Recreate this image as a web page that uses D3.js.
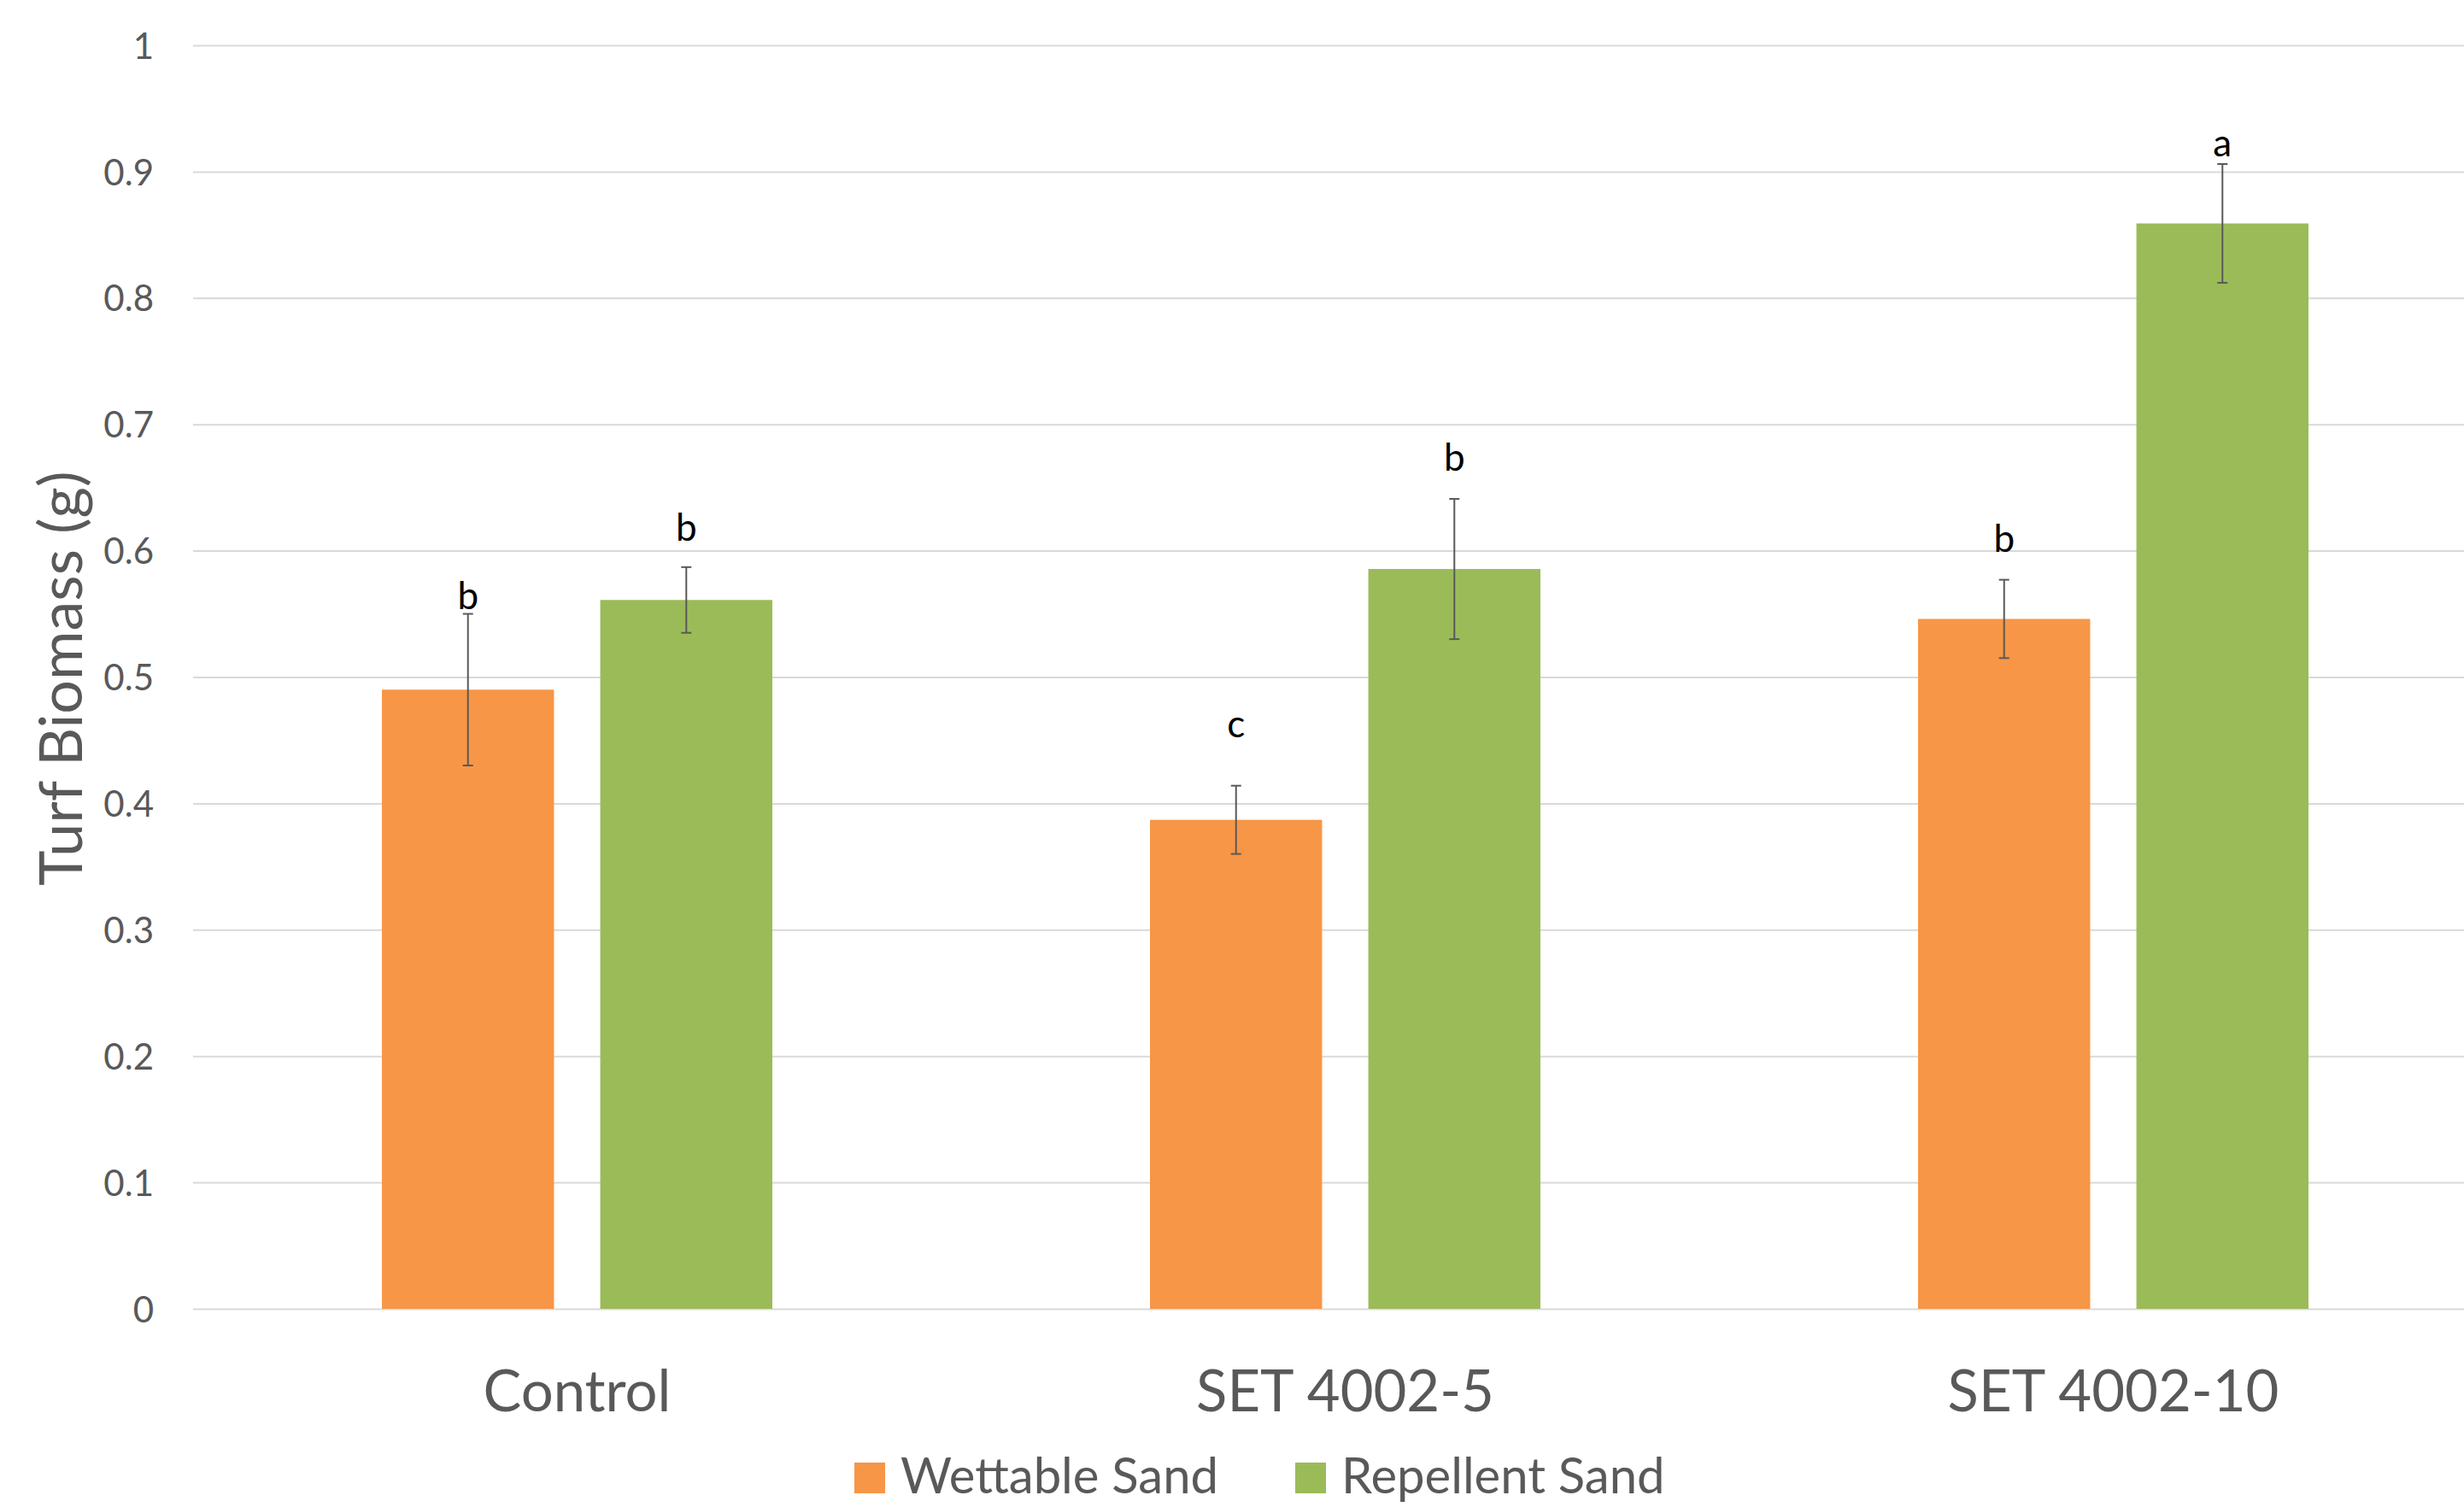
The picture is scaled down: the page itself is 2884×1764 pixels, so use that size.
<!DOCTYPE html>
<html>
<head>
<meta charset="utf-8">
<script src="https://cdn.jsdelivr.net/npm/d3@7"></script>
<style>
  html, body { margin: 0; padding: 0; background: #ffffff; }
  svg { display: block; }
  text { font-family: Lato, "Open Sans", sans-serif; }
</style>
</head>
<body>
<svg id="chart" width="2884" height="1764"></svg>
<script>
// ---- data ----
const categories = ["Control", "SET 4002-5", "SET 4002-10"];
const seriesNames = ["Wettable Sand", "Repellent Sand"];
const wettable = [0.49, 0.387, 0.546];
const repellent = [0.561, 0.5855, 0.859];
const wettableErr = [0.06, 0.027, 0.031];
const repellentErr = [0.026, 0.0555, 0.047];
const wettableLetters = ["b", "c", "b"];
const repellentLetters = ["b", "b", "a"];
// height (in axis units) at which each significance letter sits
const wettableLetterAt = [0.554, 0.452, 0.599];
const repellentLetterAt = [0.608, 0.663, 0.912];
const yTicks = [0, 0.1, 0.2, 0.3, 0.4, 0.5, 0.6, 0.7, 0.8, 0.9, 1];
const yTitle = "Turf Biomass (g)";

// ---- styles / layout ----
const W = 2884, H = 1764;
const plotLeft = 226, plotRight = 2923, plotTop = 53, plotBottom = 1532;
const colors = ["#F79646", "#9BBB59"];
const textGray = "#595959";

const svg = d3.select("#chart");
svg.append("rect").attr("width", W).attr("height", H).attr("fill", "#fff");

const y = d3.scaleLinear().domain([0, 1]).range([plotBottom, plotTop]);
const x0 = d3.scaleBand().domain(categories).range([plotLeft, plotRight])
  .paddingInner(0.4917).paddingOuter(0.24585);
const x1 = d3.scaleBand().domain(seriesNames).range([0, x0.bandwidth()])
  .paddingInner(0.2118);

// gridlines + y tick labels
const yAxis = svg.append("g")
  .attr("transform", `translate(${plotLeft},0)`)
  .call(d3.axisLeft(y).tickValues(yTicks).tickSize(-(W - plotLeft)).tickPadding(46)
    .tickFormat(d3.format("")));
yAxis.select(".domain").remove();
yAxis.selectAll(".tick line").attr("stroke", "#D9D9D9").attr("stroke-width", 2);
yAxis.selectAll(".tick text")
  .attr("fill", textGray).attr("font-size", 42).attr("dy", "0.36em")
  .style("font-family", "Lato, 'Open Sans', sans-serif");

// build rows
const rows = categories.map((c, i) => ({
  cat: c,
  vals: [
    { s: seriesNames[0], v: wettable[i], e: wettableErr[i], l: wettableLetters[i], la: wettableLetterAt[i] },
    { s: seriesNames[1], v: repellent[i], e: repellentErr[i], l: repellentLetters[i], la: repellentLetterAt[i] }
  ]
}));

const groups = svg.append("g").selectAll("g.grp").data(rows).join("g")
  .attr("class", "grp")
  .attr("transform", d => `translate(${x0(d.cat)},0)`);

groups.selectAll("rect").data(d => d.vals).join("rect")
  .attr("x", d => x1(d.s))
  .attr("width", x1.bandwidth())
  .attr("y", d => y(d.v))
  .attr("height", d => y(0) - y(d.v))
  .attr("fill", (d, i) => colors[i]);

// error bars
const eb = groups.selectAll("g.err").data(d => d.vals).join("g").attr("class", "err")
  .attr("stroke", "#595959").attr("stroke-width", 2);
eb.append("line")
  .attr("x1", d => x1(d.s) + x1.bandwidth() / 2).attr("x2", d => x1(d.s) + x1.bandwidth() / 2)
  .attr("y1", d => y(d.v + d.e)).attr("y2", d => y(d.v - d.e));
eb.append("line")
  .attr("x1", d => x1(d.s) + x1.bandwidth() / 2 - 6).attr("x2", d => x1(d.s) + x1.bandwidth() / 2 + 6)
  .attr("y1", d => y(d.v + d.e)).attr("y2", d => y(d.v + d.e));
eb.append("line")
  .attr("x1", d => x1(d.s) + x1.bandwidth() / 2 - 6).attr("x2", d => x1(d.s) + x1.bandwidth() / 2 + 6)
  .attr("y1", d => y(d.v - d.e)).attr("y2", d => y(d.v - d.e));

// significance letters
groups.selectAll("text.sig").data(d => d.vals).join("text").attr("class", "sig")
  .attr("x", d => x1(d.s) + x1.bandwidth() / 2)
  .attr("y", d => y(d.la))
  .attr("text-anchor", "middle")
  .attr("font-size", 44)
  .attr("fill", "#000")
  .text(d => d.l);

// category axis
const xAxis = svg.append("g")
  .attr("transform", `translate(0,${plotBottom})`)
  .call(d3.axisBottom(x0).tickSize(0));
xAxis.select(".domain").remove();
xAxis.selectAll(".tick text")
  .attr("y", 120).attr("dy", 0)
  .attr("fill", textGray).attr("font-size", 67)
  .style("font-family", "Lato, 'Open Sans', sans-serif");

// y title
svg.append("text")
  .attr("transform", `translate(96,794) rotate(-90)`)
  .attr("text-anchor", "middle")
  .attr("font-size", 70)
  .attr("fill", textGray)
  .text(yTitle);

// legend
const legendX = [1000, 1516];
const leg = svg.append("g").selectAll("g").data(seriesNames).join("g")
  .attr("transform", (d, i) => `translate(${legendX[i]},1748)`);
leg.append("rect").attr("x", 0).attr("y", -36).attr("width", 36).attr("height", 36)
  .attr("fill", (d, i) => colors[i]);
leg.append("text").attr("x", 54).attr("y", 0)
  .attr("font-size", 58).attr("fill", textGray).text(d => d);
</script>
</body>
</html>
